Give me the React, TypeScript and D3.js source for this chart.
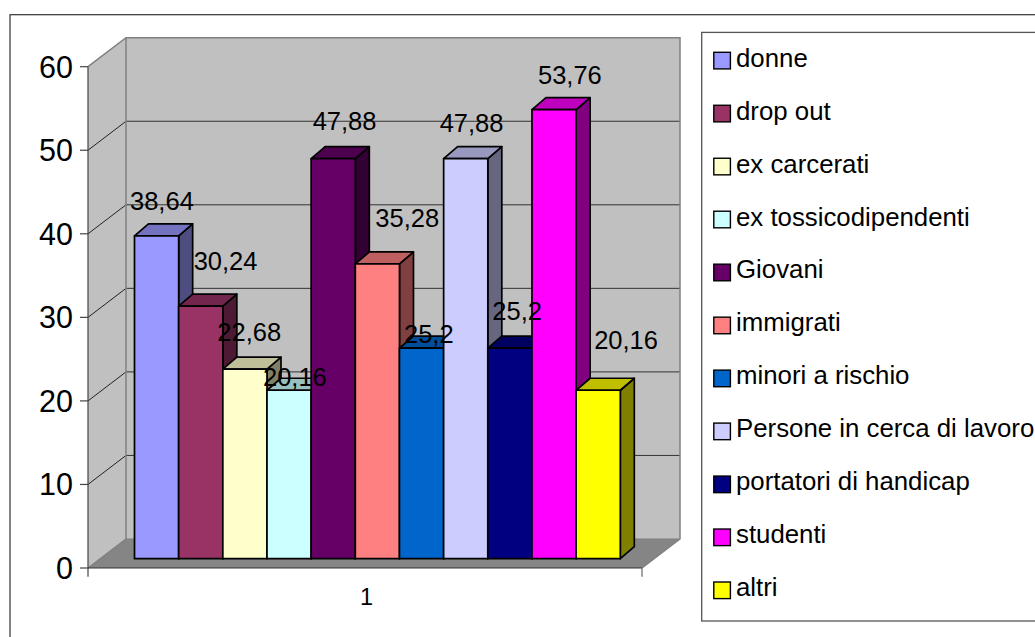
import React from "react";
import * as d3 from "d3";

const seriesNames = ["donne","drop out","ex carcerati","ex tossicodipendenti","Giovani","immigrati","minori a rischio","Persone in cerca di lavoro","portatori di handicap","studenti","altri"];
const seriesValues = [38.64,30.24,22.68,20.16,47.88,35.28,25.2,47.88,25.2,53.76,20.16];
const valueLabels = ["38,64","30,24","22,68","20,16","47,88","35,28","25,2","47,88","25,2","53,76","20,16"];
const frontColors = ["#9999ff","#993366","#ffffcc","#ccffff","#660066","#ff8080","#0066cc","#ccccff","#000080","#ff00ff","#ffff00"];
const topColors = ["#7373bf","#73264d","#bfbf99","#99bfbf","#4d004d","#bf6060","#004d99","#9999bf","#000060","#bf00bf","#bfbf00"];
const sideColors = ["#4d4d80","#4d1933","#808066","#668080","#330033","#804040","#003366","#666680","#000040","#800080","#808000"];
const yTicks = [0,10,20,30,40,50,60];
const categoryLabel = "1";

// Hand-moved data labels: offset of the label's left end / baseline from the bar's top-left corner
const labelDx = [-4.5,15,-5.5,-4,1.5,20,4.5,-4,4.5,6,18];
const labelDy = [-26,-36,-28,-4,-29,-37,-5,-27,-28,-26,-41];

const FONT = "'Liberation Sans', Arial, sans-serif";
const wallDx = 38, wallDy = -29;
const barDx = 14, barDy = -12;

export default function App() {
  const y = d3.scaleLinear().domain([0, 60]).range([568, 66.7]);
  const barBase = 558.7 - 568;
  const x = d3.scaleBand<string>().domain(seriesNames).range([134.5, 620.3]).padding(0);
  const bw = x.bandwidth();
  const x0 = 88, x1 = 642;
  const legendY = d3.scalePoint<string>().domain(seriesNames).range([52.3, 582]);

  return (
    <svg width={1035} height={637} style={{ position: "absolute", left: 0, top: 0, background: "#fff" }} fontFamily={FONT}>
      <rect x={10} y={14.7} width={1100} height={700} fill="#fff" stroke="#333" strokeWidth={1.2} />
      {/* walls */}
      <polygon points={`${x0},${y(60)} ${x0 + wallDx},${y(60) + wallDy} ${x0 + wallDx},${y(0) + wallDy} ${x0},${y(0)}`} fill="#c0c0c0" />
      <polygon points={`${x0 + wallDx},${y(60) + wallDy} ${x1 + wallDx},${y(60) + wallDy} ${x1 + wallDx},${y(0) + wallDy} ${x0 + wallDx},${y(0) + wallDy}`} fill="#c0c0c0" />
      <polygon points={`${x0},${y(0)} ${x1},${y(0)} ${x1 + wallDx},${y(0) + wallDy} ${x0 + wallDx},${y(0) + wallDy}`} fill="#858585" />
      {/* grid */}
      {yTicks.filter(t => t > 0 && t < 60).map(t => (
        <g key={t}>
          <line x1={x0} y1={y(t)} x2={x0 + wallDx} y2={y(t) + wallDy} stroke="#222" strokeWidth={1} />
          <line x1={x0 + wallDx} y1={y(t) + wallDy} x2={x1 + wallDx} y2={y(t) + wallDy} stroke="#333" strokeWidth={1} />
        </g>
      ))}
      <polyline points={`${x0},${y(60)} ${x0 + wallDx},${y(60) + wallDy} ${x1 + wallDx},${y(60) + wallDy} ${x1 + wallDx},${y(0) + wallDy} ${x1},${y(0)}`} fill="none" stroke="#808080" strokeWidth={1.5} />
      <polyline points={`${x0 + wallDx},${y(60) + wallDy} ${x0 + wallDx},${y(0) + wallDy} ${x0},${y(0)}`} fill="none" stroke="#808080" strokeWidth={1.5} />
      <line x1={x0 + wallDx} y1={y(0) + wallDy} x2={x1 + wallDx} y2={y(0) + wallDy} stroke="#808080" strokeWidth={1} />
      {/* axes */}
      <line x1={x0} y1={y(60)} x2={x0} y2={576.7} stroke="#444" strokeWidth={1.2} />
      <line x1={x0} y1={y(0)} x2={x1} y2={y(0)} stroke="#333" strokeWidth={1.2} />
      <line x1={x1} y1={y(0)} x2={x1} y2={576.7} stroke="#666" strokeWidth={1.2} />
      {yTicks.map(t => (
        <g key={t}>
          <line x1={80} y1={y(t)} x2={x0} y2={y(t)} stroke="#444" strokeWidth={1.2} />
          <text x={73} y={y(t) + 10.8} textAnchor="end" fontSize={30.5} fill="#000">{t}</text>
        </g>
      ))}
      <text x={366.5} y={605} textAnchor="middle" fontSize={23.5} fill="#000">{categoryLabel}</text>
      {/* bars */}
      {seriesNames.map((s, i) => {
        const l = x(s)!, r = l + bw, top = y(seriesValues[i]) + barBase, base = y(0) + barBase;
        return (
          <g key={s} stroke="#000" strokeWidth={1.7} strokeLinejoin="round">
            <polygon points={`${r},${top} ${r + barDx},${top + barDy} ${r + barDx},${base + barDy} ${r},${base}`} fill={sideColors[i]} />
            <polygon points={`${l},${top} ${l + barDx},${top + barDy} ${r + barDx},${top + barDy} ${r},${top}`} fill={topColors[i]} />
            <rect x={l} y={top} width={bw} height={base - top} fill={frontColors[i]} />
          </g>
        );
      })}
      {/* value labels */}
      {seriesNames.map((s, i) => (
        <text key={s} x={x(s)! + labelDx[i]} y={y(seriesValues[i]) + barBase + labelDy[i]} fontSize={25.5} fill="#000">{valueLabels[i]}</text>
      ))}
      {/* legend */}
      <rect x={701.7} y={32.4} width={400} height={588.6} fill="#fff" stroke="#555" strokeWidth={1.3} />
      {seriesNames.map((s, i) => (
        <g key={s}>
          <rect x={713.8} y={legendY(s)!} width={16.6} height={16.6} fill={frontColors[i]} stroke="#000" strokeWidth={1.4} />
          <text x={736} y={legendY(s)! + 14.3} fontSize={25.8} fill="#000">{s}</text>
        </g>
      ))}
    </svg>
  );
}
